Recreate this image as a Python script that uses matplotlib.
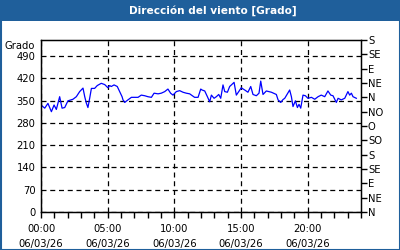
import matplotlib
matplotlib.use("Agg")
import matplotlib.pyplot as plt
from matplotlib.patches import Rectangle
from matplotlib.ticker import MultipleLocator, FixedLocator

# data: hours since 00:00 and wind direction (degrees)
hours = [0.0, 0.28, 0.52, 0.78, 0.98, 1.15, 1.4, 1.58, 1.78, 2.02, 2.4, 2.65, 2.9, 3.15, 3.28, 3.4,
         3.52, 3.65, 3.78, 4.02, 4.22, 4.52, 4.78, 5.02, 5.15, 5.27, 5.48, 5.72, 5.9, 6.08,
         6.15, 6.28, 6.52, 6.78, 7.28, 7.52, 7.78, 8.02, 8.28, 8.48, 8.78, 9.02, 9.28, 9.52,
         9.72, 9.9, 10.15, 10.4, 10.65, 10.9, 11.15, 11.52, 11.78, 11.98,
         12.08, 12.28, 12.48, 12.65, 12.78, 12.98, 13.15, 13.33, 13.48, 13.65, 13.78, 13.98,
         14.15, 14.28, 14.48, 14.65, 14.83, 15.02, 15.28, 15.52, 15.73, 15.9, 16.15, 16.35,
         16.48, 16.65, 16.9, 17.28, 17.65, 17.78, 17.98, 18.15,
         18.28, 18.65, 18.78, 18.9, 19.08, 19.23, 19.35, 19.48, 19.65, 19.83, 20.02, 20.28,
         20.53, 20.78, 21.02, 21.28, 21.52, 21.73, 21.9, 22.15, 22.28, 22.52, 22.78, 23.02,
         23.15, 23.28, 23.4, 23.65]
direction = [336, 326, 341, 315, 336, 322, 362, 326, 328, 349, 354, 362, 378, 389, 362, 342,
             328, 357, 388, 388, 397, 404, 400, 390, 397, 394, 399, 394, 378, 362,
             352, 344, 352, 360, 360, 367, 365, 362, 360, 373, 371, 373, 378, 386,
             373, 367, 378, 381, 376, 373, 371, 360, 360, 386,
             383, 380, 362, 346, 367, 357, 362, 369, 357, 399, 378, 376,
             394, 399, 407, 367, 378, 390, 383, 376, 394, 369, 365, 373,
             411, 369, 380, 376, 369, 352, 344, 353,
             357, 383, 362, 331, 349, 328, 338, 326, 367, 365, 357, 360,
             354, 362, 367, 362, 380, 367, 365, 344, 357, 352, 357, 378,
             367, 373, 362, 357]

x_ticks = [0, 5, 10, 15, 20]
x_labels = ["00:00\n06/03/26", "05:00\n06/03/26", "10:00\n06/03/26",
            "15:00\n06/03/26", "20:00\n06/03/26"]
y_ticks = [0, 70, 140, 210, 280, 350, 420, 490]
r_ticks = [0, 45, 90, 135, 180, 225, 270, 315, 360, 405, 450, 495, 540]
r_labels = ["N", "NE", "E", "SE", "S", "SO", "O", "NO", "N", "NE", "E", "SE", "S"]
title = "Dirección del viento [Grado]"
unit = "Grado"

blue_bar = "#1f5f9b"
fs = 7.2

fig = plt.figure(figsize=(4, 2.5), dpi=100)
fig.patch.set_facecolor("white")

# title bar
fig.patches.append(Rectangle((0, 1 - 21/250), 1, 21/250, transform=fig.transFigure,
                             facecolor=blue_bar, edgecolor="none", zorder=0))
fig.patches.append(Rectangle((0.5/400, 0.5/250), 399/400, 249/250, transform=fig.transFigure,
                             facecolor="none", edgecolor=blue_bar, linewidth=1.5, zorder=5))
fig.text(213/400, 1 - 10.5/250, title, color="white", fontsize=7.6, fontweight="bold",
         ha="center", va="center")

ax = fig.add_axes([41/400, 1 - 212/250, 320/400, 172/250])
ax.plot(hours, direction, color="#0000ff", linewidth=0.9)
ax.set_xlim(0, 24)
ax.set_ylim(0, 540)

ax.set_xticks(x_ticks)
ax.set_xticklabels(x_labels, fontsize=fs, linespacing=1.55)
ax.xaxis.set_minor_locator(MultipleLocator(1))
ax.tick_params(axis="x", which="both", direction="out", length=4, width=1, pad=5, colors="black")
ax.set_yticks(y_ticks)
ax.set_yticklabels([str(v) for v in y_ticks], fontsize=fs)
ax.tick_params(axis="y", which="both", length=0, pad=4)

ax.grid(True, color="black", linestyle=(0, (4, 3)), linewidth=0.9)
for s in ax.spines.values():
    s.set_color("black")
    s.set_linewidth(1)

ax2 = ax.twinx()
ax2.set_ylim(0, 540)
ax2.set_yticks(r_ticks)
ax2.set_yticklabels(r_labels, fontsize=fs)
ax2.tick_params(axis="y", direction="out", length=4, width=1, pad=1)

ax.text(-0.02, (212 - 46) / 172, unit, transform=ax.transAxes, fontsize=fs,
        ha="right", va="center")

fig.savefig("out.png", dpi=100)
